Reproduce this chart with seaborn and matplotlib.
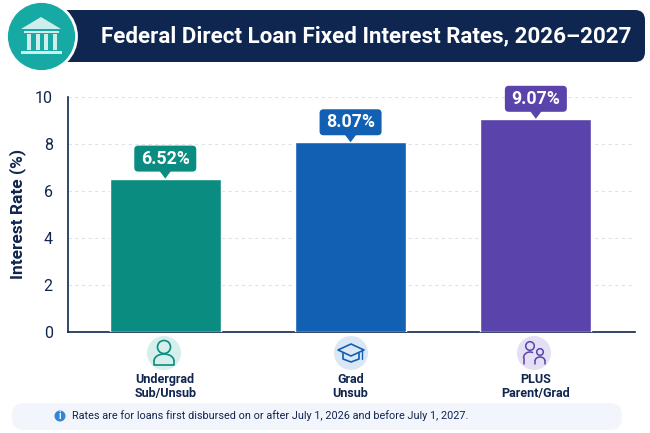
import matplotlib
matplotlib.use("Agg")
import matplotlib.pyplot as plt
import pandas as pd
import seaborn as sns
from matplotlib.patches import Arc, Circle, FancyBboxPatch, Polygon, Rectangle

# data
categories = ["Undergrad\nSub/Unsub", "Grad\nUnsub", "PLUS\nParent/Grad"]
rates = [6.52, 8.07, 9.07]
rate_labels = ["6.52%", "8.07%", "9.07%"]
bar_colors = ["#0b8c80", "#1160b4", "#5a43ab"]
icon_bg = ["#d6efec", "#dce7f6", "#e4dff5"]
y_ticks = [0, 2, 4, 6, 8, 10]

title = "Federal Direct Loan Fixed Interest Rates, 2026–2027"
note = "Rates are for loans first disbursed on or after July 1, 2026 and before July 1, 2027."

NAVY = "#11264f"
W, H = 650, 433

sns.set_theme(style="white")
plt.rcParams["font.family"] = ["Roboto", "DejaVu Sans"]

fig = plt.figure(figsize=(6.5, 4.33), dpi=100, facecolor="white")
ax = fig.add_axes([68 / W, 1 - 331.5 / H, (635 - 68) / W, (331.5 - 97) / H])

df = pd.DataFrame({"category": categories, "rate": rates})
sns.barplot(data=df, x="category", y="rate", hue="category", palette=bar_colors,
            legend=False, width=0.6, saturation=1, ax=ax, zorder=3)

ax.set_xlim(-0.525, 2.535)
ax.set_ylim(0, 10)
ax.set_yticks(y_ticks)
ax.set_xlabel("")
ax.set_ylabel("Interest Rate (%)", fontsize=12.5, fontweight="bold", color=NAVY, labelpad=6)
ax.tick_params(axis="y", labelsize=11.5, labelcolor=NAVY, length=4, color="#c5cad3", width=0.8, pad=7)
ax.tick_params(axis="x", labelsize=9, labelcolor=NAVY, length=0, pad=30)
for lab in ax.get_xticklabels():
    lab.set_fontweight("bold")
    lab.set_linespacing(1.1)
ax.grid(axis="y", color="#dfe2e8", linestyle=(0, (3, 3)), linewidth=0.8, zorder=0)
sns.despine(ax=ax, right=True, top=True)
for side in ["left", "bottom"]:
    ax.spines[side].set_color(NAVY)
    ax.spines[side].set_linewidth(1.2)

# overlay in pixel coordinates for banner, callouts and icons
ov = fig.add_axes([0, 0, 1, 1], facecolor="none")
ov.set_xlim(0, W)
ov.set_ylim(H, 0)
ov.axis("off")

# title banner
ov.add_patch(FancyBboxPatch((50, 10), 595, 52, boxstyle="round,pad=0,rounding_size=10",
                            fc="#0f2650", ec="none"))
ov.text(366, 36, title, color="white", fontsize=16.1, fontweight="bold", ha="center", va="center")
ov.add_patch(Circle((41.5, 36.5), 35, fc="#17aaa5", ec="white", lw=2))
bank = "#cdeeea"
ov.add_patch(Polygon([(21, 29), (41, 17), (61, 29)], fc=bank, ec="none"))
ov.add_patch(Rectangle((24, 31), 35, 2, fc=bank, ec="none"))
for px in [27, 36, 44, 53]:
    ov.add_patch(Rectangle((px, 34), 4, 16, fc=bank, ec="none"))
ov.add_patch(Rectangle((21, 51), 41, 3, fc=bank, ec="none"))

# callouts placed from the bars through the data scale
fig.canvas.draw()
for i, bar in enumerate(ax.patches[:3]):
    x_disp, y_disp = ax.transData.transform((i, rates[i]))
    cx, top = x_disp, H - y_disp
    ov.add_patch(FancyBboxPatch((cx - 31, top - 33), 62, 26, boxstyle="round,pad=0,rounding_size=4",
                                fc=bar_colors[i], ec="none", zorder=5))
    ov.add_patch(Polygon([(cx - 6, top - 8), (cx + 6, top - 8), (cx, top)], fc=bar_colors[i],
                         ec="none", zorder=5))
    ov.text(cx, top - 20, rate_labels[i], color="white", fontsize=12.8, fontweight="bold",
            ha="center", va="center", zorder=6)

# category icons
icon_x = [164, 351, 534]
icon_y = 353
for x, bg in zip(icon_x, icon_bg):
    ov.add_patch(Circle((x, icon_y), 17, fc=bg, ec="none"))

# person
c = bar_colors[0]
ov.add_patch(Circle((164, 347), 6.5, fc="none", ec=c, lw=1.2))
ov.add_patch(Arc((164, 361), 20, 14, theta1=180, theta2=360, ec=c, lw=1.2))
ov.plot([154, 154, 174, 174], [361, 364.5, 364.5, 361], color=c, lw=1.2)

# mortarboard
c = bar_colors[1]
ov.add_patch(Polygon([(338, 350), (351, 344), (364, 350), (351, 356)], fc="none", ec=c, lw=1.2, joinstyle="round"))
ov.plot([343, 343, 351, 359, 359], [353, 359, 362, 359, 353], color=c, lw=1.2)
ov.plot([362, 362], [351, 359], color=c, lw=1)

# two people
c = bar_colors[2]
ov.add_patch(Circle((530, 346), 4.3, fc="none", ec=c, lw=1.1))
ov.add_patch(Circle((540, 352), 3.3, fc="none", ec=c, lw=1.1))
ov.add_patch(Arc((530, 358), 13, 12, theta1=180, theta2=300, ec=c, lw=1.1))
ov.plot([523.5, 523.5], [358, 364], color=c, lw=1.1)
ov.add_patch(Arc((540, 361), 10, 8, theta1=180, theta2=360, ec=c, lw=1.1))
ov.plot([535, 535], [361, 364], color=c, lw=1.1)
ov.plot([545, 545], [361, 364], color=c, lw=1.1)

# footer note
ov.add_patch(FancyBboxPatch((12, 403), 610, 27, boxstyle="round,pad=0,rounding_size=12",
                            fc="#f2f5fc", ec="none"))
ov.add_patch(Circle((60, 416), 5.5, fc="#2f86d6", ec="none"))
ov.text(60, 416, "i", color="white", fontsize=7, fontweight="bold", ha="center", va="center")
ov.text(72, 416, note, color=NAVY, fontsize=7.85, ha="left", va="center")

fig.savefig("out.png", dpi=100)
